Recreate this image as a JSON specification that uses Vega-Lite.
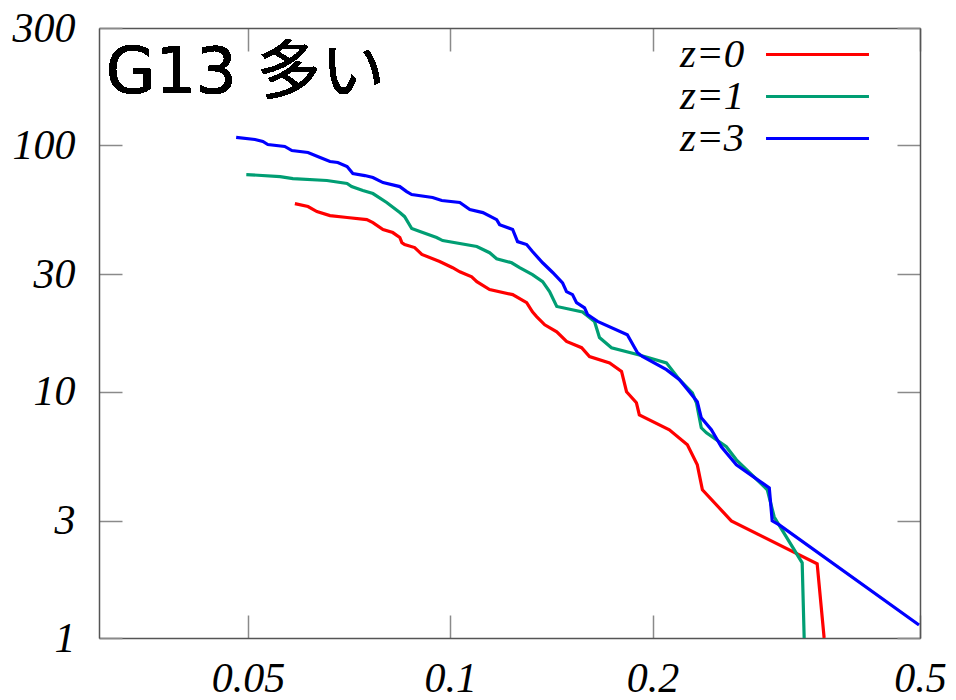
{
  "$schema": "https://vega.github.io/schema/vega-lite/v6.json",
  "width": 821,
  "height": 610,
  "autosize": {"type": "none"},
  "padding": {"left": 99, "top": 28, "right": 36, "bottom": 62},
  "background": "white",
  "config": {"view": {"stroke": null}},
  "datasets": {
    "curves": [
      {"s":"z=0","i":1,"x":0.0587,"y":58.1},{"s":"z=0","i":2,"x":0.0614,"y":56.5},{"s":"z=0","i":3,"x":0.0633,"y":53.9},{"s":"z=0","i":4,"x":0.0662,"y":51.9},{"s":"z=0","i":5,"x":0.0702,"y":51.0},{"s":"z=0","i":6,"x":0.0751,"y":50.0},{"s":"z=0","i":7,"x":0.0767,"y":48.6},{"s":"z=0","i":8,"x":0.0794,"y":45.6},{"s":"z=0","i":9,"x":0.0821,"y":44.3},{"s":"z=0","i":10,"x":0.0841,"y":42.3},{"s":"z=0","i":11,"x":0.0847,"y":40.3},{"s":"z=0","i":12,"x":0.0855,"y":39.6},{"s":"z=0","i":13,"x":0.0885,"y":38.5},{"s":"z=0","i":14,"x":0.0907,"y":36.1},{"s":"z=0","i":15,"x":0.0964,"y":33.8},{"s":"z=0","i":16,"x":0.1008,"y":31.9},{"s":"z=0","i":17,"x":0.1033,"y":30.7},{"s":"z=0","i":18,"x":0.1076,"y":29.3},{"s":"z=0","i":19,"x":0.1095,"y":28.0},{"s":"z=0","i":20,"x":0.1144,"y":26.0},{"s":"z=0","i":21,"x":0.1238,"y":24.8},{"s":"z=0","i":22,"x":0.1299,"y":23.0},{"s":"z=0","i":23,"x":0.1325,"y":21.1},{"s":"z=0","i":24,"x":0.1344,"y":20.2},{"s":"z=0","i":25,"x":0.1382,"y":18.7},{"s":"z=0","i":26,"x":0.1440,"y":17.5},{"s":"z=0","i":27,"x":0.1489,"y":16.0},{"s":"z=0","i":28,"x":0.1568,"y":15.1},{"s":"z=0","i":29,"x":0.1611,"y":13.9},{"s":"z=0","i":30,"x":0.1726,"y":13.1},{"s":"z=0","i":31,"x":0.1798,"y":12.1},{"s":"z=0","i":32,"x":0.1829,"y":10.0},{"s":"z=0","i":33,"x":0.1892,"y":9.02},{"s":"z=0","i":34,"x":0.1911,"y":8.06},{"s":"z=0","i":35,"x":0.2118,"y":7.01},{"s":"z=0","i":36,"x":0.2253,"y":6.09},{"s":"z=0","i":37,"x":0.2331,"y":5.05},{"s":"z=0","i":38,"x":0.2372,"y":4.0},{"s":"z=0","i":39,"x":0.2619,"y":2.99},{"s":"z=0","i":40,"x":0.3515,"y":2.0},{"s":"z=0","i":41,"x":0.3600,"y":1.0},
      {"s":"z=1","i":1,"x":0.0497,"y":76.2},{"s":"z=1","i":2,"x":0.0558,"y":74.8},{"s":"z=1","i":3,"x":0.0583,"y":73.4},{"s":"z=1","i":4,"x":0.0655,"y":72.1},{"s":"z=1","i":5,"x":0.0702,"y":70.1},{"s":"z=1","i":6,"x":0.0713,"y":68.1},{"s":"z=1","i":7,"x":0.0741,"y":65.6},{"s":"z=1","i":8,"x":0.0767,"y":63.8},{"s":"z=1","i":9,"x":0.0804,"y":58.7},{"s":"z=1","i":10,"x":0.0841,"y":53.4},{"s":"z=1","i":11,"x":0.0855,"y":51.4},{"s":"z=1","i":12,"x":0.0876,"y":46.0},{"s":"z=1","i":13,"x":0.0901,"y":44.7},{"s":"z=1","i":14,"x":0.0954,"y":42.3},{"s":"z=1","i":15,"x":0.0974,"y":41.1},{"s":"z=1","i":16,"x":0.1095,"y":38.9},{"s":"z=1","i":17,"x":0.1144,"y":36.7},{"s":"z=1","i":18,"x":0.1172,"y":34.7},{"s":"z=1","i":19,"x":0.1234,"y":33.4},{"s":"z=1","i":20,"x":0.1268,"y":31.9},{"s":"z=1","i":21,"x":0.1325,"y":29.9},{"s":"z=1","i":22,"x":0.1372,"y":28.0},{"s":"z=1","i":23,"x":0.1405,"y":25.5},{"s":"z=1","i":24,"x":0.1440,"y":22.2},{"s":"z=1","i":25,"x":0.1573,"y":21.1},{"s":"z=1","i":26,"x":0.1639,"y":19.3},{"s":"z=1","i":27,"x":0.1667,"y":16.6},{"s":"z=1","i":28,"x":0.1737,"y":15.1},{"s":"z=1","i":29,"x":0.1911,"y":14.1},{"s":"z=1","i":30,"x":0.2097,"y":13.1},{"s":"z=1","i":31,"x":0.2193,"y":11.2},{"s":"z=1","i":32,"x":0.2292,"y":9.9},{"s":"z=1","i":33,"x":0.2324,"y":9.02},{"s":"z=1","i":34,"x":0.2363,"y":7.14},{"s":"z=1","i":35,"x":0.2405,"y":6.81},{"s":"z=1","i":36,"x":0.2575,"y":5.98},{"s":"z=1","i":37,"x":0.2665,"y":5.29},{"s":"z=1","i":38,"x":0.2963,"y":4.0},{"s":"z=1","i":39,"x":0.3034,"y":3.10},{"s":"z=1","i":40,"x":0.3339,"y":2.02},{"s":"z=1","i":41,"x":0.3362,"y":1.0},
      {"s":"z=3","i":1,"x":0.0480,"y":107.8},{"s":"z=3","i":2,"x":0.0512,"y":105.8},{"s":"z=3","i":3,"x":0.0526,"y":103.8},{"s":"z=3","i":4,"x":0.0535,"y":100.9},{"s":"z=3","i":5,"x":0.0567,"y":99.1},{"s":"z=3","i":6,"x":0.0581,"y":95.4},{"s":"z=3","i":7,"x":0.0614,"y":93.7},{"s":"z=3","i":8,"x":0.0640,"y":89.4},{"s":"z=3","i":9,"x":0.0662,"y":86.1},{"s":"z=3","i":10,"x":0.0680,"y":85.3},{"s":"z=3","i":11,"x":0.0702,"y":82.1},{"s":"z=3","i":12,"x":0.0716,"y":76.9},{"s":"z=3","i":13,"x":0.0746,"y":75.5},{"s":"z=3","i":14,"x":0.0767,"y":74.1},{"s":"z=3","i":15,"x":0.0794,"y":70.7},{"s":"z=3","i":16,"x":0.0841,"y":68.1},{"s":"z=3","i":17,"x":0.0861,"y":65.0},{"s":"z=3","i":18,"x":0.0876,"y":63.2},{"s":"z=3","i":19,"x":0.0941,"y":61.5},{"s":"z=3","i":20,"x":0.0971,"y":59.8},{"s":"z=3","i":21,"x":0.1033,"y":58.7},{"s":"z=3","i":22,"x":0.1069,"y":54.9},{"s":"z=3","i":23,"x":0.1118,"y":53.4},{"s":"z=3","i":24,"x":0.1172,"y":50.0},{"s":"z=3","i":25,"x":0.1184,"y":47.7},{"s":"z=3","i":26,"x":0.1238,"y":45.6},{"s":"z=3","i":27,"x":0.1259,"y":40.7},{"s":"z=3","i":28,"x":0.1299,"y":39.6},{"s":"z=3","i":29,"x":0.1325,"y":37.1},{"s":"z=3","i":30,"x":0.1372,"y":33.4},{"s":"z=3","i":31,"x":0.1420,"y":30.5},{"s":"z=3","i":32,"x":0.1469,"y":27.7},{"s":"z=3","i":33,"x":0.1489,"y":25.5},{"s":"z=3","i":34,"x":0.1520,"y":24.8},{"s":"z=3","i":35,"x":0.1541,"y":23.0},{"s":"z=3","i":36,"x":0.1584,"y":21.9},{"s":"z=3","i":37,"x":0.1600,"y":20.6},{"s":"z=3","i":38,"x":0.1656,"y":19.3},{"s":"z=3","i":39,"x":0.1834,"y":17.05},{"s":"z=3","i":40,"x":0.1899,"y":14.4},{"s":"z=3","i":41,"x":0.1931,"y":13.9},{"s":"z=3","i":42,"x":0.2097,"y":12.3},{"s":"z=3","i":43,"x":0.2193,"y":11.2},{"s":"z=3","i":44,"x":0.2268,"y":10.0},{"s":"z=3","i":45,"x":0.2331,"y":9.11},{"s":"z=3","i":46,"x":0.2363,"y":7.84},{"s":"z=3","i":47,"x":0.2446,"y":7.01},{"s":"z=3","i":48,"x":0.2531,"y":5.98},{"s":"z=3","i":49,"x":0.2665,"y":5.05},{"s":"z=3","i":50,"x":0.2983,"y":4.07},{"s":"z=3","i":51,"x":0.3013,"y":2.99},{"s":"z=3","i":52,"x":0.3087,"y":2.88},{"s":"z=3","i":53,"x":0.4983,"y":1.13}
    ]
  },
  "data": {"name": "curves"},
  "layer": [
    {
      "mark": {"type": "line", "strokeWidth": 3.2, "clip": true},
      "encoding": {
        "x": {"field": "x", "type": "quantitative", "scale": {"type": "log", "domain": [0.03, 0.5], "nice": false},
          "axis": {"orient": "bottom", "values": [0.05, 0.1, 0.2, 0.5], "format": "~g", "title": null, "grid": false, "tickSize": -23, "tickColor": "#8a8a8a", "tickWidth": 1.5, "domainColor": "#555555", "domainWidth": 1.5, "labelFont": "Liberation Serif", "labelFontStyle": "italic", "labelFontSize": 42, "labelColor": "black", "labelPadding": 43, "labelFlush": false, "labelOverlap": false}},
        "y": {"field": "y", "type": "quantitative", "scale": {"type": "log", "domain": [1, 300], "nice": false},
          "axis": {"orient": "left", "values": [1, 3, 10, 30, 100, 300], "format": "~g", "title": null, "grid": false, "tickSize": -23, "tickColor": "#8a8a8a", "tickWidth": 1.5, "domainColor": "#555555", "domainWidth": 1.5, "labelFont": "Liberation Serif", "labelFontStyle": "italic", "labelFontSize": 42, "labelColor": "black", "labelPadding": 47, "labelFlush": false, "labelOverlap": false}},
        "color": {"field": "s", "type": "nominal", "scale": {"domain": ["z=0", "z=1", "z=3"], "range": ["#ff0000", "#009e73", "#0000ff"]},
          "legend": {"orient": "none", "legendX": 698, "legendY": 6, "title": null, "padding": 0, "symbolType": "M-5,0H5", "symbolSize": 424, "symbolStrokeWidth": 3.2, "labelFont": "Liberation Serif", "labelFontStyle": "italic", "labelFontSize": 41, "labelColor": "black", "labelAlign": "right", "labelOffset": -93.8, "rowPadding": 0}},
        "order": {"field": "i", "type": "quantitative"}
      }
    },
    {
      "mark": {"type": "line", "strokeOpacity": 0},
      "encoding": {
        "x": {"field": "x", "type": "quantitative", "axis": {"orient": "top", "values": [0.05, 0.1, 0.2, 0.5], "labels": false, "title": null, "grid": false, "tickSize": -23, "tickColor": "#8a8a8a", "tickWidth": 1.5, "domainColor": "#555555", "domainWidth": 1.5}},
        "y": {"field": "y", "type": "quantitative", "axis": {"orient": "right", "values": [1, 3, 10, 30, 100, 300], "labels": false, "title": null, "grid": false, "tickSize": -23, "tickColor": "#8a8a8a", "tickWidth": 1.5, "domainColor": "#555555", "domainWidth": 1.5}},
        "detail": {"field": "s", "type": "nominal"},
        "order": {"field": "i", "type": "quantitative"}
      }
    },
    {
      "mark": {"type": "text", "align": "left", "baseline": "alphabetic", "font": "DejaVu Sans, Noto Sans CJK JP", "fontSize": 64, "color": "black"},
      "encoding": {
        "x": {"datum": 0.03069, "type": "quantitative", "axis": null},
        "y": {"datum": 163.4, "type": "quantitative", "axis": null},
        "text": {"value": "G13 多い"}
      }
    }
  ],
  "resolve": {"axis": {"x": "independent", "y": "independent"}}
}
